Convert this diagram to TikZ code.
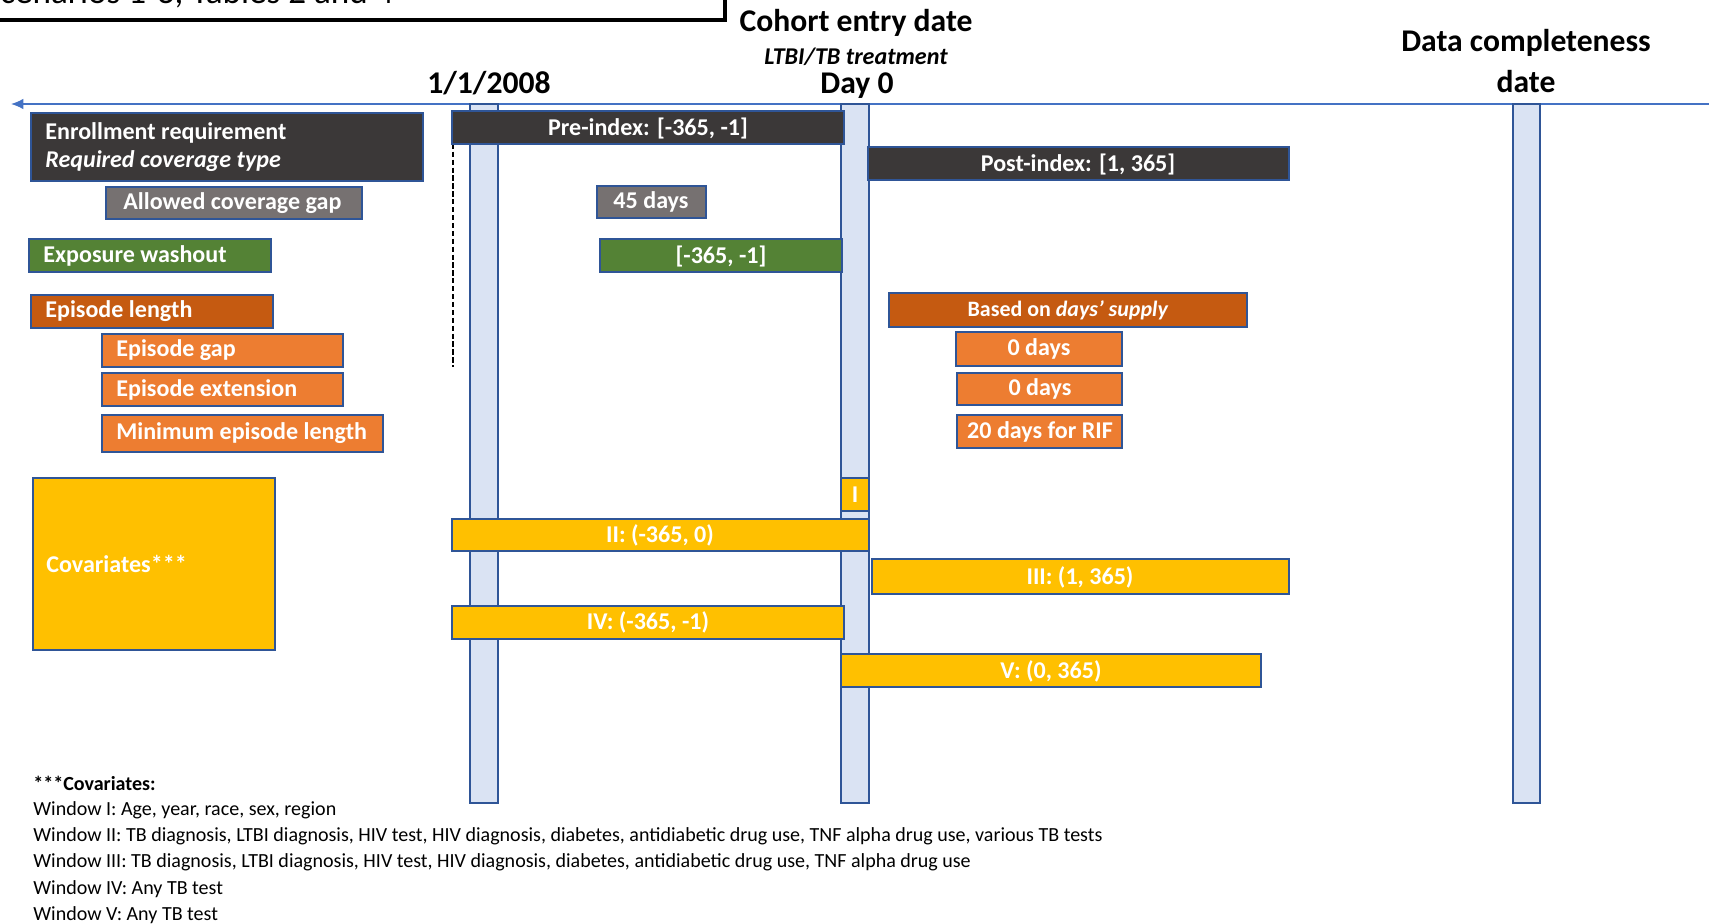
\documentclass[tikz,border=0pt]{standalone}
\usepackage{fontspec}
\setmainfont{Carlito}
\usetikzlibrary{arrows.meta}

\definecolor{darkfill}{HTML}{3B3838}
\definecolor{grayfill}{HTML}{767171}
\definecolor{greenfill}{HTML}{548235}
\definecolor{rustfill}{HTML}{C55A11}
\definecolor{orangefill}{HTML}{ED7D31}
\definecolor{goldfill}{HTML}{FFC000}
\definecolor{barfill}{HTML}{DAE3F3}
\definecolor{edgeblue}{HTML}{2F5597}
\definecolor{axisblue}{HTML}{4472C4}

\tikzset{
  box/.style={draw=edgeblue, line width=0.7pt},
  darkbox/.style={box, fill=darkfill},
  graybox/.style={box, fill=grayfill},
  greenbox/.style={box, fill=greenfill},
  rustbox/.style={box, fill=rustfill},
  orangebox/.style={box, fill=orangefill},
  goldbox/.style={box, fill=goldfill},
  daybar/.style={box, fill=barfill},
  lbl/.style={text=white, inner sep=0pt, font=\bfseries\fontsize{13.7}{16}\selectfont},
  leftlbl/.style={lbl, anchor=west, align=left},
  head/.style={inner sep=0pt, font=\bfseries\fontsize{18}{20}\selectfont},
  note/.style={inner sep=0pt, anchor=west, font=\fontsize{11.4}{13}\selectfont}
}

\begin{document}
\begin{tikzpicture}[x=0.02cm, y=-0.02cm]
	\useasboundingbox (0,0) rectangle (1709,923);
	\clip (0,0) rectangle (1709,923);

	% cut-off title box
	\draw[line width=1.8pt] (-30,-60) rectangle (725,20);
	\node[anchor=base east, inner sep=0pt, font=\fontsize{20}{22}\selectfont] (title) at (394,3) {Scenarios 1-3, Tables 2 and 4};

	% time axis
	\coordinate (axisright) at (1709,104);
	\coordinate (axisleft) at (11,104);
	\draw[axisblue, line width=0.8pt, -{Latex[length=7pt,width=6pt]}] (axisright) -- (axisleft);

	% date bars
	\draw[daybar] (470,104) rectangle (498,803);
	\draw[daybar] (841,104) rectangle (869,803);
	\draw[daybar] (1513,104) rectangle (1540,803);

	\node[head] (cohort) at (856,23) {Cohort entry date};
	\node[inner sep=0pt, font=\bfseries\itshape\fontsize{13.7}{15}\selectfont] (treat) at (856,57) {LTBI/TB treatment};
	\node[head] (dayzero) at (857,86) {Day 0};
	\node[head] (startdate) at (489,83) {1/1/2008};
	\node[head] (complete) at (1526,43) {Data completeness};
	\node[head] (completedate) at (1526,82) {date};

	% dashed start marker
	\draw[dash pattern=on 3pt off 1.5pt, line width=0.6pt] (453,128) -- (453,367);

	% criteria
	\draw[darkbox] (31,113) rectangle (423,181);
	\node[leftlbl] (enroll) at (45,147) {Enrollment requirement\\\textit{Required coverage type}};
	\draw[graybox] (106,187) rectangle (362,219);
	\node[leftlbl] (gap) at (123,203) {Allowed coverage gap};
	\draw[greenbox] (29,239) rectangle (271,272);
	\node[leftlbl] (washout) at (43,256) {Exposure washout};
	\draw[rustbox] (31,295) rectangle (273,328);
	\node[leftlbl] (eplength) at (45,311) {Episode length};
	\draw[orangebox] (102,334) rectangle (343,367);
	\node[leftlbl] (epgap) at (116,350) {Episode gap};
	\draw[orangebox] (102,373) rectangle (343,406);
	\node[leftlbl] (epext) at (116,390) {Episode extension};
	\draw[orangebox] (102,415) rectangle (383,452);
	\node[leftlbl] (epmin) at (116,433) {Minimum episode length};

	% values
	\draw[darkbox] (452,111) rectangle (844,144);
	\node[lbl] (preindex) at (648,128) {Pre-index: [-365, -1]};
	\draw[darkbox] (868,147) rectangle (1289,180);
	\node[lbl] (postindex) at (1078,164) {Post-index: [1, 365]};
	\draw[graybox] (597,186) rectangle (706,218);
	\node[lbl] (gapdays) at (651,202) {45 days};
	\draw[greenbox] (600,239) rectangle (842,272);
	\node[lbl] (washdays) at (721,256) {[-365, -1]};
	\draw[rustbox] (889,293) rectangle (1247,327);
	\node[lbl, font=\bfseries\fontsize{12.5}{14}\selectfont] (supply) at (1068,310) {Based on \textit{days’ supply}};
	\draw[orangebox] (956,332) rectangle (1122,366);
	\node[lbl] (gapzero) at (1039,349) {0 days};
	\draw[orangebox] (957,373) rectangle (1122,405);
	\node[lbl] (extzero) at (1040,389) {0 days};
	\draw[orangebox] (957,415) rectangle (1122,448);
	\node[lbl] (minrif) at (1040,432) {20 days for RIF};

	% covariate windows
	\draw[goldbox] (33,478) rectangle (275,650);
	\node[leftlbl] (covar) at (46,564) {Covariates***};
	\draw[goldbox] (841,478) rectangle (869,511);
	\node[lbl] (winone) at (855,495) {I};
	\draw[goldbox] (452,519) rectangle (869,551);
	\node[lbl] (wintwo) at (660,535) {II: (-365, 0)};
	\draw[goldbox] (872,559) rectangle (1289,594);
	\node[lbl] (winthree) at (1080,577) {III: (1, 365)};
	\draw[goldbox] (452,606) rectangle (844,639);
	\node[lbl] (winfour) at (648,622) {IV: (-365, -1)};
	\draw[goldbox] (841,654) rectangle (1261,687);
	\node[lbl] (winfive) at (1051,671) {V: (0, 365)};

	% footnote
	\node[note, font=\bfseries\fontsize{11.4}{13}\selectfont] (notehead) at (33,783) {***Covariates:};
	\node[note] (noteone) at (33,810) {Window I: Age, year, race, sex, region};
	\node[note] (notetwo) at (33,836) {Window II: TB diagnosis, LTBI diagnosis, HIV test, HIV diagnosis, diabetes, antidiabetic drug use, TNF alpha drug use, various TB tests};
	\node[note] (notethree) at (33,862) {Window III: TB diagnosis, LTBI diagnosis, HIV test, HIV diagnosis, diabetes, antidiabetic drug use, TNF alpha drug use};
	\node[note] (notefour) at (33,889) {Window IV: Any TB test};
	\node[note] (notefive) at (33,915) {Window V: Any TB test};
\end{tikzpicture}
\end{document}
